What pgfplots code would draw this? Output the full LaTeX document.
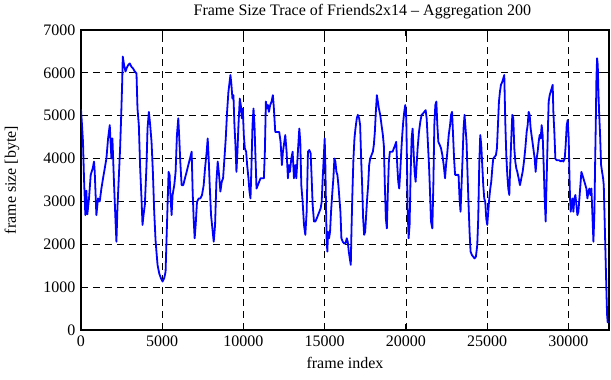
\documentclass[border=0pt]{standalone}
\usepackage{fontspec}
\setmainfont{Liberation Serif}
\usepackage{pgfplots}
\pgfplotsset{compat=1.18}
\begin{document}
\begin{tikzpicture}
\useasboundingbox (-81pt,-50pt) rectangle (530pt,330pt);
\begin{axis}[
  scale only axis,
  width=528pt, height=300pt,
  xmin=0, xmax=32500, ymin=0, ymax=7000,
  xtick={0,5000,...,30000},
  ytick={0,1000,...,7000},
  tick align=inside,
  major tick length=6pt,
  axis line style={line width=1.2pt},
  every tick/.style={black, line width=1.2pt},
  grid=major,
  major grid style={black, dashed, line width=0.8pt, dash pattern=on 7pt off 5pt},
  font=\fontsize{16}{19}\selectfont,
  /pgf/number format/assume math mode=true,
  /pgf/number format/1000 sep={},
  scaled ticks=false,
  title={Frame Size Trace of Friends2x14 -- Aggregation 200},
  title style={at={(axis description cs:0.533,1)}, anchor=south, yshift=2pt},
  xlabel={frame index},
  ylabel={frame size [byte]},
  xlabel style={at={(axis description cs:0.5,0)}, anchor=north, yshift=-24pt},
  ylabel style={at={(axis description cs:-0.1307,0.5)}, anchor=center},
  yticklabel style={xshift=-2pt},
  xticklabel style={yshift=-2pt},
]
\addplot[blue, line width=1.8pt, line join=round] coordinates {
(0,5150)(62,4780)(123,4390)(185,3540)(267,2680)(330,3250)(391,2700)(494,3070)(597,3620)(720,3770)(802,3930)(844,3700)(947,2680)(1049,3070)(1152,3000)(1255,3300)(1358,3540)(1461,3770)(1564,4000)(1667,4470)(1770,4780)(1872,4000)(1934,4470)(2037,3380)(2119,2600)(2181,2060)(2243,2840)(2325,3540)(2407,4240)(2469,4940)(2531,5720)(2572,6380)(2654,6180)(2737,6030)(2798,6100)(2901,6180)(3004,6220)(3107,6140)(3210,6100)(3313,6030)(3416,5990)(3477,5170)(3560,4780)(3642,3770)(3724,3070)(3786,2450)(3848,2680)(3930,2920)(4033,3850)(4095,4700)(4177,5090)(4259,4780)(4342,4390)(4424,3690)(4506,2760)
(4588,2100)(4650,1800)(4712,1520)(4815,1320)(4918,1210)(5020,1130)(5123,1210)(5206,1360)(5267,2140)(5329,2920)(5391,3690)(5453,3620)(5494,3230)(5576,2680)(5638,3150)(5741,3380)(5823,3690)(5905,4550)(5988,4940)(6050,4470)(6111,3930)(6194,3380)(6296,3380)(6399,3540)(6502,3690)(6605,3850)(6708,4000)(6811,4160)(6873,3230)(6934,2600)(6996,2140)(7058,2450)(7140,2990)(7243,3070)(7346,3070)(7449,3150)(7552,3380)(7634,3770)(7737,4160)(7799,4470)(7861,4000)(7922,3380)(8005,2680)(8087,2370)(8169,2060)(8252,2450)(8334,3460)(8416,3930)(8498,3620)(8581,3230)(8663,3460)(8745,3540)(8828,4000)(8910,4470)(8992,5090)(9075,5560)(9198,5950)
(9260,5720)(9321,5400)(9383,5480)(9445,4780)(9507,4320)(9568,3690)(9630,4160)(9692,4780)(9774,5400)(9836,5250)(9898,4940)(9959,5170)(10021,4550)(10083,4240)(10165,4160)(10227,3850)(10309,3540)(10371,3230)(10433,3070)(10495,3850)(10556,4780)(10618,5170)(10680,4780)(10742,4000)(10803,3300)(10886,3380)(10968,3460)(11050,3540)(11153,3540)(11256,3540)(11318,4160)(11379,5330)(11441,5170)(11503,5250)(11565,5090)(11647,5250)(11729,5330)(11812,5480)(11873,5170)(11956,4620)(12038,4620)(12120,4620)(12203,4620)(12285,4390)(12367,3850)(12429,4160)(12491,4320)(12573,4550)(12655,4160)(12738,3540)(12800,3850)(12861,3690)(12944,4000)(13026,4160)(13108,3540)(13190,3850)(13252,3540)(13314,3930)(13376,4320)(13437,4700)(13499,4390)(13561,3380)(13643,2990)(13726,2450)(13808,2220)(13890,2760)(13971,4160)
(14054,4200)(14136,4120)(14198,3540)(14259,2920)(14342,2530)(14424,2530)(14506,2600)(14589,2680)(14671,2760)(14753,2840)(14815,2990)(14877,3540)(14939,4000)(15000,4470)(15041,3850)(15083,2840)(15124,2060)(15165,1830)(15206,2290)(15268,2140)(15330,2290)(15391,2760)(15474,3230)(15535,3540)(15597,4000)(15659,3930)(15721,3690)(15782,3620)(15844,3380)(15906,3070)(15968,2760)(16029,2140)(16112,2060)(16194,2020)(16276,2020)(16359,2140)(16420,2060)(16482,1830)(16544,1670)(16606,1520)(16647,2290)(16708,3230)(16770,4000)(16832,4470)(16894,4700)(16976,4940)(17038,5020)(17120,4940)(17182,4780)(17244,4000)(17305,3380)(17367,2600)(17429,2220)(17491,2290)(17552,2680)(17614,3070)(17676,3380)(17737,3850)(17799,4000)(17882,4080)(17964,4160)(18026,4320)(18087,4620)(18149,5090)(18211,5480)(18273,5330)(18334,5170)(18417,5020)(18499,4780)(18581,4550)
(18642,4300)(18703,3380)(18765,2600)(18827,2370)(18889,3230)(18950,3930)(19012,4160)(19095,4160)(19177,4160)(19259,4240)(19341,4320)(19403,4390)(19465,3850)(19527,3460)(19588,3300)(19650,3690)(19712,4160)(19774,4550)(19835,4860)(19897,5090)(19959,5250)(20021,4940)(20062,4000)(20103,2840)(20165,2140)(20226,2450)(20288,3620)(20350,4470)(20412,4700)(20473,4160)(20535,3690)(20597,3460)(20659,3850)(20720,4240)(20803,4620)(20885,4860)(20967,5020)(21050,5050)(21132,5090)(21214,5130)(21276,4940)(21338,4470)(21420,3850)(21482,3230)(21543,2530)(21626,2370)(21688,3380)(21749,4780)(21811,5250)(21873,5330)(21934,4780)(21996,4390)(22079,4320)(22161,4240)(22243,4080)(22326,3850)(22408,3540)(22470,3850)(22552,4160)(22634,4550)(22717,4780)(22778,5020)(22840,5090)(22902,4550)(22964,4000)(23025,3620)(23108,3620)(23190,3620)
(23239,3620)(23301,3070)(23362,2760)(23424,3380)(23486,4000)(23547,4700)(23609,5020)(23671,4700)(23732,4390)(23794,3620)(23856,2920)(23917,2290)(23979,1830)(24061,1750)(24143,1710)(24225,1670)(24308,1710)(24390,1980)(24451,2600)(24513,3850)(24575,4550)(24636,4320)(24698,3850)(24760,3380)(24821,3070)(24883,2990)(24945,2600)(25006,2450)(25068,2760)(25130,3070)(25191,3300)(25253,3460)(25315,3770)(25376,4000)(25458,4040)(25541,4080)(25602,4240)(25664,4780)(25726,5330)(25787,5560)(25849,5720)(25931,5790)(25993,5870)(26054,5950)(26116,4860)(26178,4080)(26239,3620)(26301,3300)(26363,3150)(26424,3850)(26486,4470)(26548,5020)(26609,4940)(26671,4240)(26733,3930)(26794,3770)(26856,3690)(26938,3540)(27020,3380)(27103,3540)(27185,3690)(27267,3930)(27349,4240)(27431,4620)(27493,4780)(27555,5090)(27616,5020)(27678,4700)(27760,4470)(27842,4240)(27924,4000)
(27986,3690)(28047,4000)(28109,4160)(28171,4390)(28232,4550)(28294,4470)(28356,4780)(28417,4550)(28479,3850)(28541,3070)(28602,2530)(28643,3230)(28684,3850)(28746,4780)(28787,5330)(28849,5480)(28910,5560)(28972,5640)(29034,5720)(29075,5090)(29136,4620)(29198,4000)(29280,3960)(29363,3960)(29445,3960)(29527,3930)(29609,3960)(29691,3930)(29774,4000)(29835,4320)(29897,4780)(29958,4900)(30020,4470)(30061,3690)(30102,3070)(30143,2760)(30185,2920)(30246,3070)(30308,2760)(30370,3070)(30431,3150)(30493,2920)(30554,2680)(30616,2760)(30678,3070)(30739,3380)(30801,3690)(30863,3620)(30924,3540)(30986,3460)(31048,3380)(31109,3300)(31171,3070)(31233,3230)(31294,3300)(31356,3150)(31418,3300)(31479,2680)(31541,2060)(31603,2760)(31644,3850)(31685,4780)(31726,5870)(31767,6340)(31808,6180)(31849,5560)(31890,5090)(31952,4550)(32013,3850)(32075,3690)(32137,3540)(32178,3380)(32219,2760)(32260,2140)(32301,1520)(32342,890)(32383,350)(32424,160)
};
\end{axis}
\end{tikzpicture}
\end{document}
